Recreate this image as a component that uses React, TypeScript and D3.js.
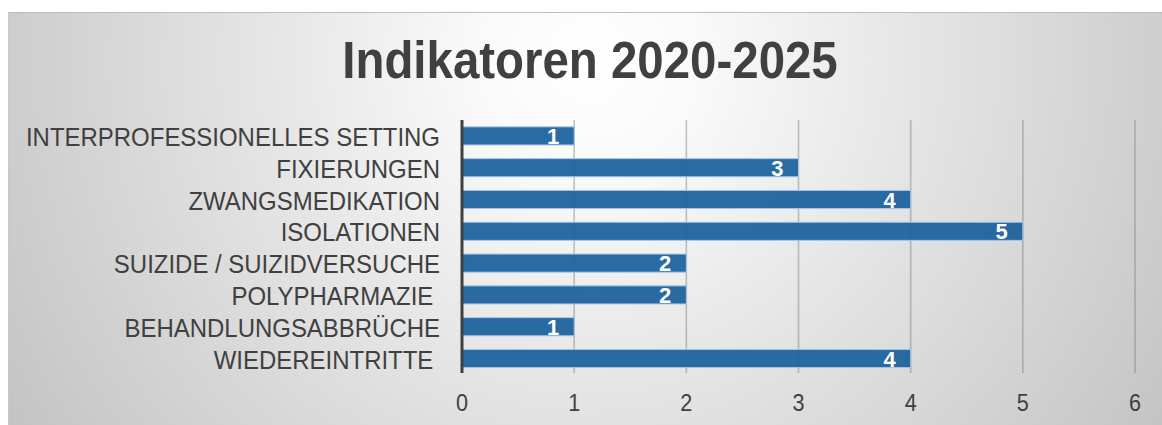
import React from "react";
import * as d3 from "d3";

const categories = [
  "INTERPROFESSIONELLES SETTING",
  "FIXIERUNGEN",
  "ZWANGSMEDIKATION",
  "ISOLATIONEN",
  "SUIZIDE / SUIZIDVERSUCHE",
  "POLYPHARMAZIE ",
  "BEHANDLUNGSABBRÜCHE",
  "WIEDEREINTRITTE ",
];
const values = [1, 3, 4, 5, 2, 2, 1, 4];
const xTicks = [0, 1, 2, 3, 4, 5, 6];
const title = "Indikatoren 2020-2025";

const W = 1162;
const H = 425;
const FONT = "'Liberation Sans', Arial, sans-serif";
const TXT = "#404040";
const SX = 0.94;

export default function App() {
  const x = d3.scaleLinear().domain([0, 6]).range([462, 1135]);
  const y = d3
    .scaleBand<string>()
    .domain(categories)
    .range([120, 374.4])
    .paddingInner(0.43)
    .paddingOuter(0.215);
  const bw = y.bandwidth();

  return (
    <svg
      width={W}
      height={H}
      style={{ position: "absolute", left: 0, top: 0, display: "block" }}
    >
      <defs>
        <radialGradient
          id="bg"
          gradientUnits="userSpaceOnUse"
          cx={590}
          cy={60}
          r={700}
        >
          <stop offset="0" stopColor="#ffffff" />
          <stop offset="0.15" stopColor="#fafafa" />
          <stop offset="1" stopColor="#c2c2c2" />
        </radialGradient>
      </defs>
      <rect x={0} y={0} width={W} height={H} fill="#ffffff" />
      <rect x={8} y={12} width={W} height={H} fill="url(#bg)" />
      <line x1={8} x2={W} y1={12.5} y2={12.5} stroke="#bdbdbd" strokeWidth={1} />
      <line x1={8.5} x2={8.5} y1={12} y2={H} stroke="#c8c8c8" strokeWidth={1} />

      <g transform={`translate(590,78) scale(0.93,1)`}>
        <text
          x={0}
          y={0}
          textAnchor="middle"
          fontFamily={FONT}
          fontWeight="bold"
          fontSize={51}
          fill={TXT}
        >
          {title}
        </text>
      </g>

      {/* gridlines */}
      {xTicks.slice(1).map((t) => (
        <line
          key={"g" + t}
          x1={x(t)}
          x2={x(t)}
          y1={120}
          y2={373}
          stroke="#7a7a7a"
          strokeOpacity={0.45}
          strokeWidth={1.6}
        />
      ))}

      {/* bars */}
      {categories.map((c, i) => (
        <rect
          key={"b" + i}
          x={x(0)}
          y={y(c)}
          width={x(values[i]) - x(0)}
          height={bw}
          fill="#1f639f"
          fillOpacity={0.95}
          stroke="#a9c6e4"
          strokeWidth={1}
        />
      ))}

      {/* axis line */}
      <line x1={462} x2={462} y1={120} y2={373} stroke="#404040" strokeWidth={3} />

      {/* value labels */}
      {categories.map((c, i) => (
        <text
          key={"v" + i}
          x={x(values[i]) - 15}
          y={(y(c) as number) + bw / 2 + 8}
          textAnchor="end"
          fontFamily={FONT}
          fontWeight="bold"
          fontSize={22}
          fill="#ffffff"
        >
          {values[i]}
        </text>
      ))}

      {/* category labels */}
      {categories.map((c, i) => (
        <g
          key={"c" + i}
          transform={`translate(440,${(y(c) as number) + bw / 2 + 10}) scale(${SX},1)`}
        >
          <text
            x={0}
            y={0}
            textAnchor="end"
            fontFamily={FONT}
            fontSize={25.5}
            fill={TXT}
            style={{ whiteSpace: "pre" }}
          >
            {c}
          </text>
        </g>
      ))}

      {/* tick labels */}
      {xTicks.map((t) => (
        <g key={"t" + t} transform={`translate(${x(t)},411) scale(${SX},1)`}>
          <text
            x={0}
            y={0}
            textAnchor="middle"
            fontFamily={FONT}
            fontSize={23}
            fill={TXT}
          >
            {t}
          </text>
        </g>
      ))}
    </svg>
  );
}
